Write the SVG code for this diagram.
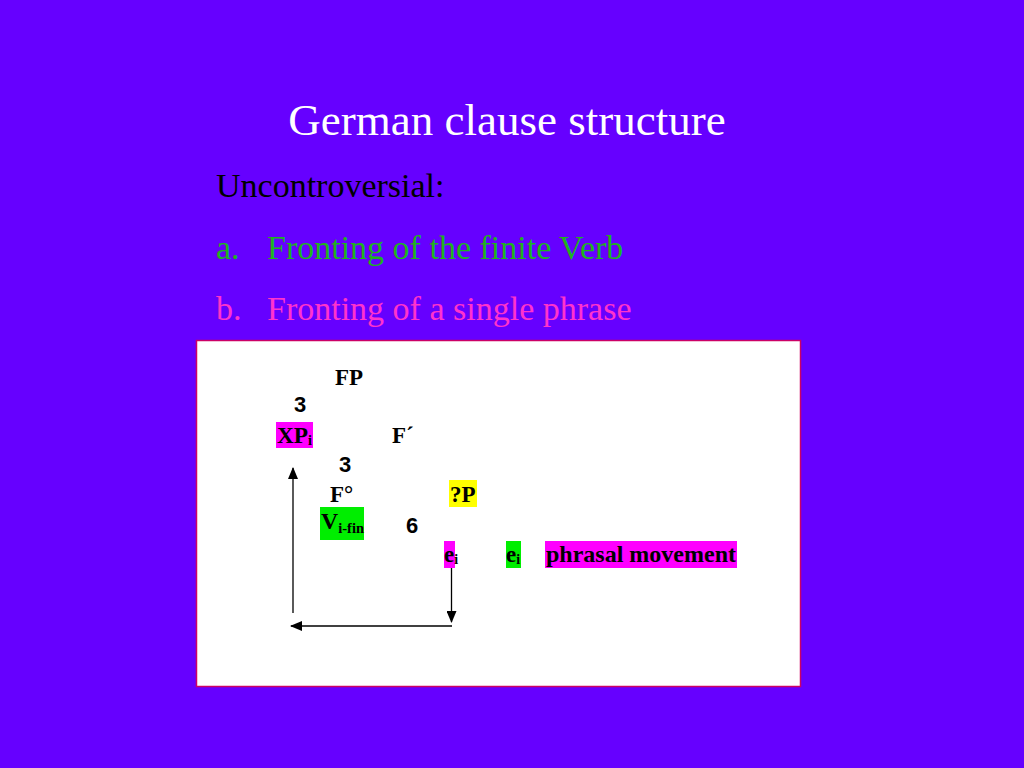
<svg xmlns="http://www.w3.org/2000/svg" width="1024" height="768" viewBox="0 0 1024 768">
<style>
.serif{font-family:"Liberation Serif","Times New Roman",serif}
.tree{font-family:"Liberation Serif","Times New Roman",serif;font-weight:bold;font-size:23px;fill:#000}
.num{font-family:"Liberation Sans",Arial,sans-serif;font-weight:bold;font-size:22px;fill:#000}
.sub{font-size:14px}
.line{stroke:#000;stroke-width:1.3;fill:none}
</style>
<defs>
<marker id="ah" viewBox="0 0 12 10" refX="11" refY="5" markerWidth="12" markerHeight="10" markerUnits="userSpaceOnUse" orient="auto">
<path d="M0,0 L12,5 L0,10 Z" fill="#000"/>
</marker>
</defs>
<rect width="1024" height="768" fill="#6600FF"/>
<g id="title"><text class="serif" x="507" y="135" font-size="45" fill="#fff" text-anchor="middle">German clause structure</text></g>
<g id="bullets">
<text class="serif" x="216" y="197" font-size="34" fill="#000">Uncontroversial:</text>
<text class="serif" x="216" y="259" font-size="34" fill="#1FB21F">a.</text>
<text class="serif" x="267" y="259" font-size="34" fill="#1FB21F">Fronting of the finite Verb</text>
<text class="serif" x="216" y="320" font-size="34" fill="#FF33CC">b.</text>
<text class="serif" x="267" y="320" font-size="34" fill="#FF33CC">Fronting of a single phrase</text>
</g>
<g id="panel"><rect x="196.5" y="340.5" width="604" height="346" fill="#fff" stroke="#CC0066" stroke-width="1.5"/></g>
<g id="FP"><text class="tree" x="335" y="385">FP</text></g>
<g id="b1"><text class="num" x="294" y="412">3</text></g>
<g id="XPi"><rect x="276" y="422" width="37" height="26" fill="#FF00FF"/><text class="tree" x="277" y="443" textLength="35" lengthAdjust="spacingAndGlyphs">XP<tspan class="sub" dy="2">i</tspan></text></g>
<g id="Fbar"><text class="tree" x="392" y="443">F´</text></g>
<g id="b2"><text class="num" x="339" y="472">3</text></g>
<g id="F0"><text class="tree" x="330" y="502">F°</text></g>
<g id="QP"><rect x="449" y="480" width="28" height="27" fill="#FFFF00"/><text class="tree" x="450" y="502">?P</text></g>
<g id="Vfin"><rect x="320" y="507" width="44" height="33" fill="#00EE00"/><text class="tree" x="321" y="529" textLength="43" lengthAdjust="spacingAndGlyphs">V<tspan class="sub" dy="4">i-fin</tspan></text></g>
<g id="tri"><text class="num" x="406" y="533">6</text></g>
<g id="e1"><rect x="444" y="541" width="11" height="27" fill="#FF00FF"/><text class="tree" x="444" y="562">e<tspan class="sub" dy="2">i</tspan></text></g>
<g id="e2"><rect x="506" y="541" width="15" height="27" fill="#00EE00"/><text class="tree" x="506" y="562">e<tspan class="sub" dy="2">i</tspan></text></g>
<g id="pm"><rect x="545" y="541" width="192" height="27" fill="#FF00FF"/><text class="tree" x="546" y="562" textLength="190" lengthAdjust="spacingAndGlyphs">phrasal movement</text></g>
<g id="connectors">
<line class="line" x1="293" y1="613" x2="293" y2="468" marker-end="url(#ah)"/>
<line class="line" x1="451.5" y1="568" x2="451.5" y2="622" marker-end="url(#ah)"/>
<line class="line" x1="452" y1="626" x2="291" y2="626" marker-end="url(#ah)"/>
</g>
</svg>
